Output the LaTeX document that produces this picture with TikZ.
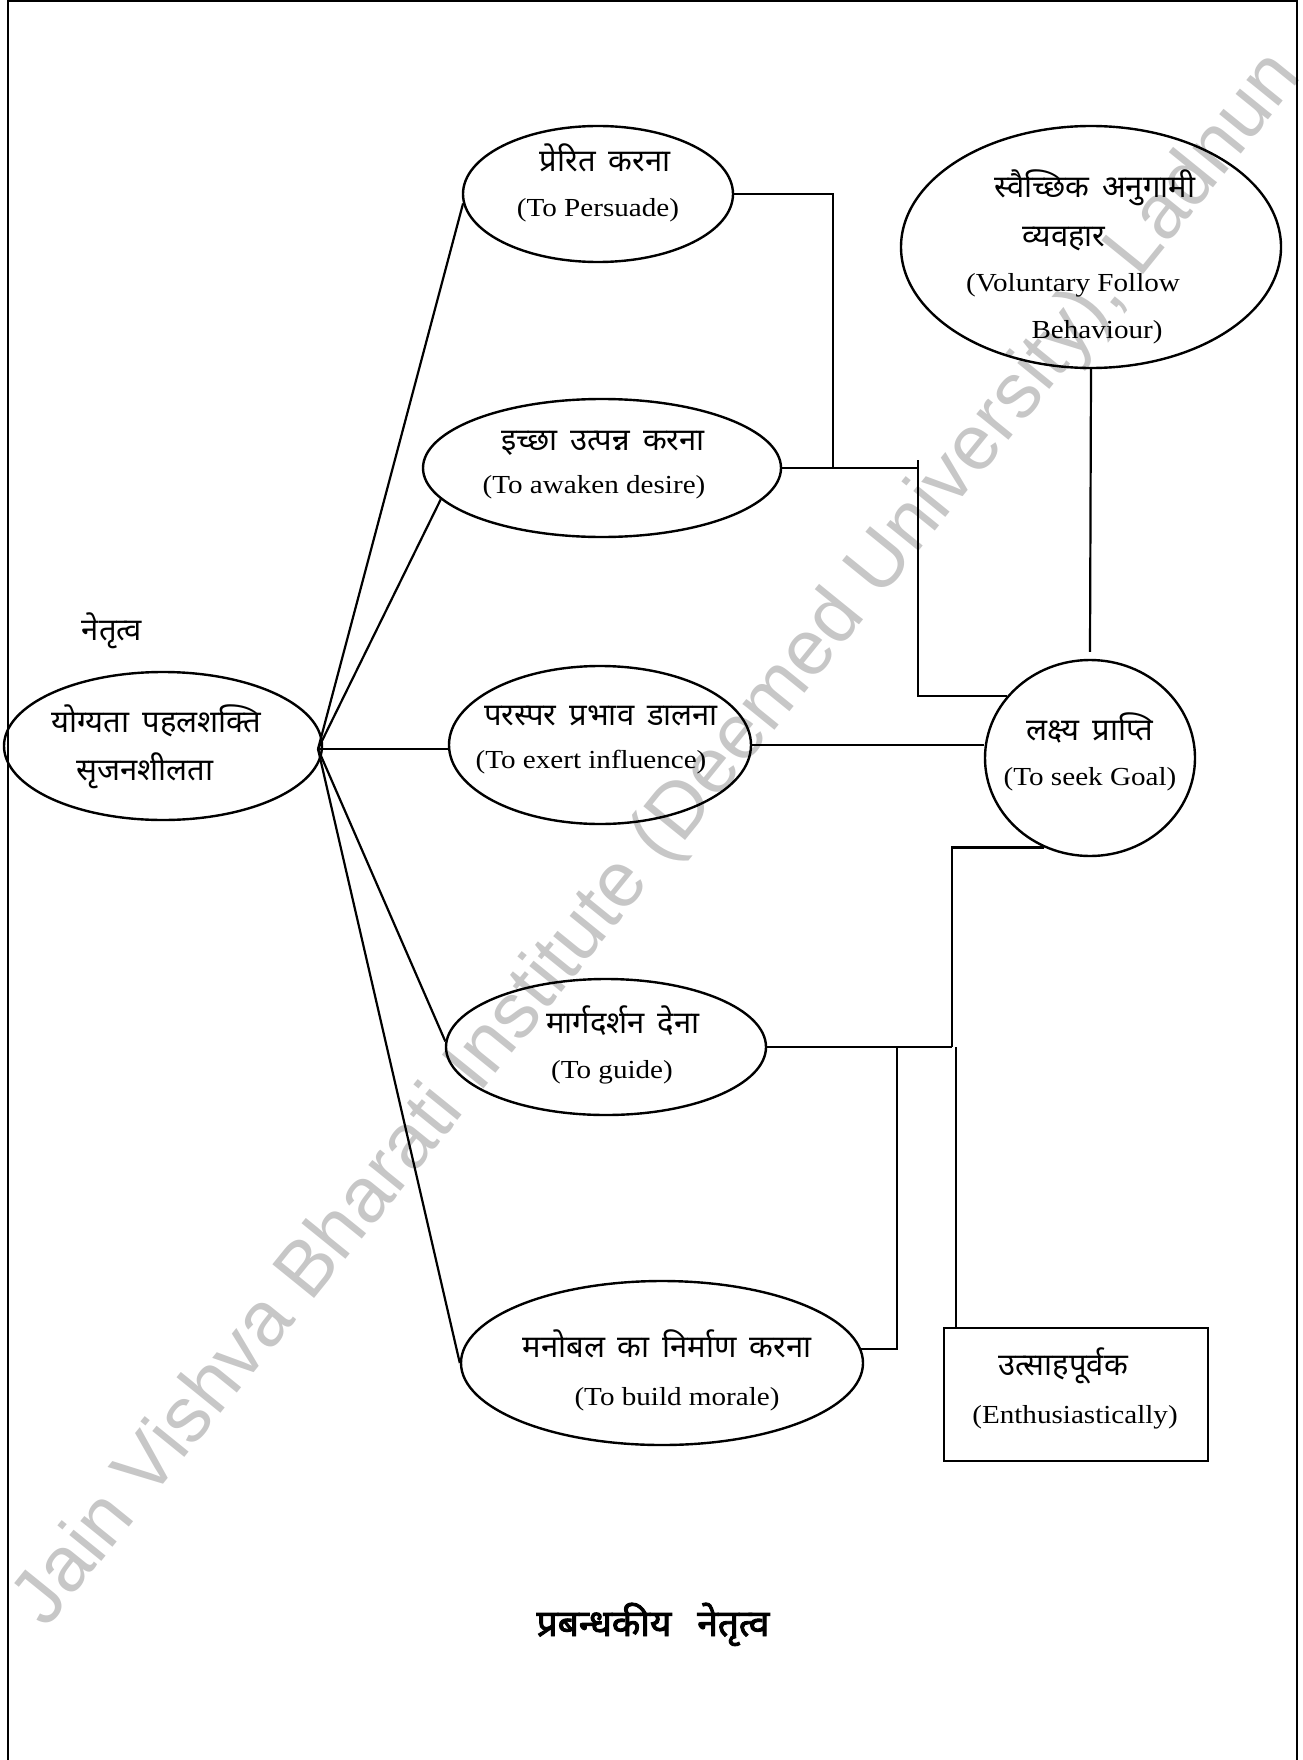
\documentclass[tikz,border=0pt]{standalone}
\usepackage{fontspec}
\setmainfont{Liberation Serif}
\newfontfamily\hin[Script=Devanagari,WordSpace=1.6]{Noto Sans}
\newfontfamily\hinb[Script=Devanagari,FakeBold=2.5]{Noto Sans}
\newfontfamily\en[FakeStretch=1.12]{Liberation Serif}
\newfontfamily\wmfont{Liberation Sans}
\usetikzlibrary{shapes.geometric,calc}
\begin{document}
\begin{tikzpicture}[x=1pt,y=-1pt,line width=2.4pt,
  ov/.style={draw,ellipse,inner sep=0pt},
  hl/.style={anchor=base,inner sep=0pt,font=\hin\fontsize{31}{34}\selectfont},
  el/.style={anchor=base,inner sep=0pt,font=\en\fontsize{26}{30}\selectfont},
  wire/.style={line width=2.2pt}]
\useasboundingbox (0,0) rectangle (1302,1760);
% watermark
\node[rotate=51,text=black!22,font=\wmfont\fontsize{78}{78}\selectfont,anchor=base east,inner sep=0pt] (wmk) at (1304,76) {Jain Vishva Bharati Institute (Deemed University), Ladnun};
% frame
\draw (8,1760) -- (8,1) -- (1297,1) -- (1297,1760);
% shapes
\node[ov,minimum width=318pt,minimum height=148pt] (main) at (163,746) {};
\node[ov,minimum width=270pt,minimum height=136pt] (p) at (598,194) {};
\node[ov,minimum width=358pt,minimum height=138pt] (d) at (602,468) {};
\node[ov,minimum width=302pt,minimum height=158pt] (i) at (600,745) {};
\node[ov,minimum width=320pt,minimum height=136pt] (g) at (606,1047) {};
\node[ov,minimum width=402pt,minimum height=164pt] (m) at (662,1363) {};
\node[ov,minimum width=380pt,minimum height=242pt] (v) at (1091,247) {};
\node[ov,minimum width=210pt,minimum height=196pt] (goal) at (1090,758) {};
\node[draw,rectangle,inner sep=0pt,minimum width=264pt,minimum height=133pt] (box) at (1076,1394.5) {};
% texts
\node[hl] (lead) at (112,640) {नेतृत्व};
\node[hl] (main1) at (156,732) {योग्यता पहलशक्ति};
\node[hl] (main2) at (145,780) {सृजनशीलता};
\node[hl] (p1) at (605,172) {प्रेरित करना};
\node[el] (p2) at (598,217) {(To Persuade)};
\node[hl] (d1) at (603,450) {इच्छा उत्पन्न करना};
\node[el] (d2) at (594,493) {(To awaken desire)};
\node[hl] (i1) at (601,725) {परस्पर प्रभाव डालना};
\node[el] (i2) at (591,768) {(To exert influence)};
\node[hl] (goal1) at (1090,740) {लक्ष्य प्राप्ति};
\node[el] (goal2) at (1090,785) {(To seek Goal)};
\node[hl] (g1) at (623,1033) {मार्गदर्शन देना};
\node[el] (g2) at (612,1078) {(To guide)};
\node[hl] (m1) at (667,1357) {मनोबल का निर्माण करना};
\node[el] (m2) at (677,1405) {(To build morale)};
\node[hl] (b1) at (1063,1375) {उत्साहपूर्वक};
\node[el] (b2) at (1075,1423) {(Enthusiastically)};
\node[hl] (v1) at (1095,198) {स्वैच्छिक अनुगामी};
\node[hl] (v2) at (1064,247) {व्यवहार};
\node[el] (v3) at (1073,292) {(Voluntary Follow};
\node[el] (v4) at (1097,338) {Behaviour)};
\node[anchor=base,inner sep=0pt,font=\hinb\fontsize{37}{40}\selectfont] (title) at (653,1636) {प्रबन्धकीय\hspace{26pt}नेतृत्व};
% connectors
\coordinate (hub) at (318,749);
\draw[wire] (hub) -- (p.184);
\draw[wire] (hub) -- (d.191);
\draw[wire] (hub) -- (i.west |- hub);
\draw[wire] (hub) -- (g.178);
\draw[wire] (hub) -- (m.west);
\coordinate (ja) at (833,468);
\coordinate (jb) at (918,468);
\draw[wire] (p.east) -| (ja);
\draw[wire] (d.east) -- (jb);
\draw[wire] ([yshift=8pt]jb) |- (goal.143);
\draw[wire] (i.east) -- (i.east -| goal.west);
\draw[wire] (v.south) -- ([yshift=7pt]goal.north);
\coordinate (jc) at (952,1047);
\coordinate (jd) at (897,1047);
\coordinate (je) at (956,1047);
\draw[wire] (goal.243) -| (jc);
\draw[wire] (g.east) -- (jc);
\draw[wire] (jd) |- (m.4);
\draw[wire] (je) -- (je |- box.north);
\end{tikzpicture}
\end{document}
